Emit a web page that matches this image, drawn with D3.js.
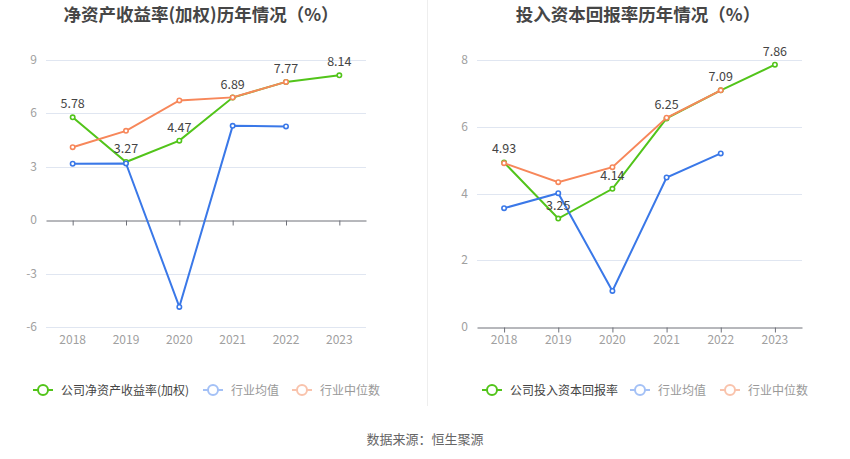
<!DOCTYPE html>
<html>
<head>
<meta charset="utf-8">
<script src="https://cdn.jsdelivr.net/npm/d3@7"></script>
<style>
  body { margin: 0; background: #fff; }
  svg { font-family: "Noto Sans CJK SC", "Noto Sans", sans-serif; }
</style>
</head>
<body>
<svg id="chart" width="850" height="459"></svg>
<script>
var years = ["2018", "2019", "2020", "2021", "2022", "2023"];

var roeCompany = [5.78, 3.27, 4.47, 6.89, 7.77, 8.14];
var roeAvg = [3.17, 3.19, -4.87, 5.3, 5.27, null];
var roeMedian = [4.1, 5.02, 6.73, 6.9, 7.77, null];
var roeTicks = [-6, -3, 0, 3, 6, 9];

var roicCompany = [4.93, 3.25, 4.14, 6.25, 7.09, 7.86];
var roicAvg = [3.56, 4.01, 1.08, 4.48, 5.2, null];
var roicMedian = [4.91, 4.34, 4.79, 6.27, 7.09, null];
var roicTicks = [0, 2, 4, 6, 8];

const GREEN = "#52c41a";
const BLUE = "#3a78e8";
const ORANGE = "#f7875a";

var svg = d3.select("#chart");

// divider between the two panels
svg.append("line")
  .attr("x1", 427.5).attr("x2", 427.5)
  .attr("y1", 0).attr("y2", 406)
  .attr("stroke", "#eeeeee");

function drawPanel(opt) {
  var g = svg.append("g");
  var x = d3.scalePoint().domain(years).range(opt.xRange).padding(0.5);
  var y = d3.scaleLinear().domain(opt.yDomain).range([327, 60]);

  // title
  g.append("text")
    .attr("x", opt.titleX).attr("y", 21)
    .attr("text-anchor", "middle")
    .attr("font-size", 17.5).attr("font-weight", "bold")
    .attr("fill", "#464646")
    .text(opt.title);

  // grid
  g.selectAll(".grid")
    .data(opt.ticks.filter(d => d != 0))
    .enter().append("line")
    .attr("x1", opt.xRange[0]).attr("x2", opt.xRange[1])
    .attr("y1", d => Math.round(y(d)) + 0.5).attr("y2", d => Math.round(y(d)) + 0.5)
    .attr("stroke", "#e0e6f1");

  // y labels
  g.selectAll(".ylab")
    .data(opt.ticks)
    .enter().append("text")
    .attr("x", opt.xRange[0] - 9)
    .attr("y", d => y(d) + 4)
    .attr("text-anchor", "end")
    .attr("font-size", 12).attr("fill", "#a0a0a0")
    .text(d => d);

  // x axis line at zero with ticks
  var axis = g.append("g")
    .attr("transform", `translate(0, ${Math.round(y(0)) + 0.5})`)
    .call(d3.axisBottom(x).tickSize(5).tickSizeOuter(0).tickFormat(""));
  axis.selectAll("path, line").attr("stroke", "#6e7079");

  // x labels at the bottom
  g.selectAll(".xlab")
    .data(years)
    .enter().append("text")
    .attr("x", d => x(d))
    .attr("y", 344)
    .attr("text-anchor", "middle")
    .attr("font-size", 12).attr("fill", "#a0a0a0")
    .text(d => d);

  var line = d3.line()
    .defined(d => d.v != null)
    .x(d => x(d.year))
    .y(d => y(d.v));

  var series = [
    { values: opt.company, color: GREEN },
    { values: opt.avg, color: BLUE },
    { values: opt.median, color: ORANGE }
  ];

  series.forEach(function (s) {
    var pts = years.map((yr, i) => ({ year: yr, v: s.values[i] }));
    g.append("path")
      .datum(pts)
      .attr("fill", "none")
      .attr("stroke", s.color)
      .attr("stroke-width", 2)
      .attr("d", line);
    g.selectAll(null)
      .data(pts.filter(d => d.v != null))
      .enter().append("circle")
      .attr("cx", d => x(d.year))
      .attr("cy", d => y(d.v))
      .attr("r", 2.2)
      .attr("fill", "#fff")
      .attr("stroke", s.color)
      .attr("stroke-width", 1.6);
  });

  // value labels for company series
  g.selectAll(".vlab")
    .data(opt.company)
    .enter().append("text")
    .attr("x", (d, i) => x(years[i]))
    .attr("y", d => y(d) - 9)
    .attr("text-anchor", "middle")
    .attr("font-size", 12.5).attr("fill", "#444")
    .text(d => d.toFixed(2));

  // legend
  var legendItems = [
    { name: opt.legendName, color: GREEN, text: "#444" },
    { name: "行业均值", color: "#a4c1f6", text: "#999" },
    { name: "行业中位数", color: "#f9c3ac", text: "#999" }
  ];
  var lx = opt.legendX;
  legendItems.forEach(function (item, i) {
    var lg = g.append("g").attr("transform", `translate(${lx[i]}, 390)`);
    lg.append("line").attr("x1", 0).attr("x2", 20).attr("y1", 0).attr("y2", 0)
      .attr("stroke", item.color).attr("stroke-width", 2);
    lg.append("circle").attr("cx", 10).attr("cy", 0).attr("r", 5)
      .attr("fill", "#fff").attr("stroke", item.color).attr("stroke-width", 2);
    lg.append("text").attr("x", 28).attr("y", 4.5)
      .attr("font-size", 12).attr("fill", item.text)
      .text(item.name);
  });
}

drawPanel({
  title: "净资产收益率(加权)历年情况（%）",
  titleX: 201,
  xRange: [46, 366],
  yDomain: [-6, 9],
  ticks: roeTicks,
  company: roeCompany,
  avg: roeAvg,
  median: roeMedian,
  legendName: "公司净资产收益率(加权)",
  legendX: [33, 203, 292]
});

drawPanel({
  title: "投入资本回报率历年情况（%）",
  titleX: 638,
  xRange: [477, 802],
  yDomain: [0, 8],
  ticks: roicTicks,
  company: roicCompany,
  avg: roicAvg,
  median: roicMedian,
  legendName: "公司投入资本回报率",
  legendX: [482, 630, 720]
});

// source
svg.append("text")
  .attr("x", 425).attr("y", 444)
  .attr("text-anchor", "middle")
  .attr("font-size", 13).attr("fill", "#666")
  .text("数据来源：恒生聚源");
</script>
</body>
</html>
